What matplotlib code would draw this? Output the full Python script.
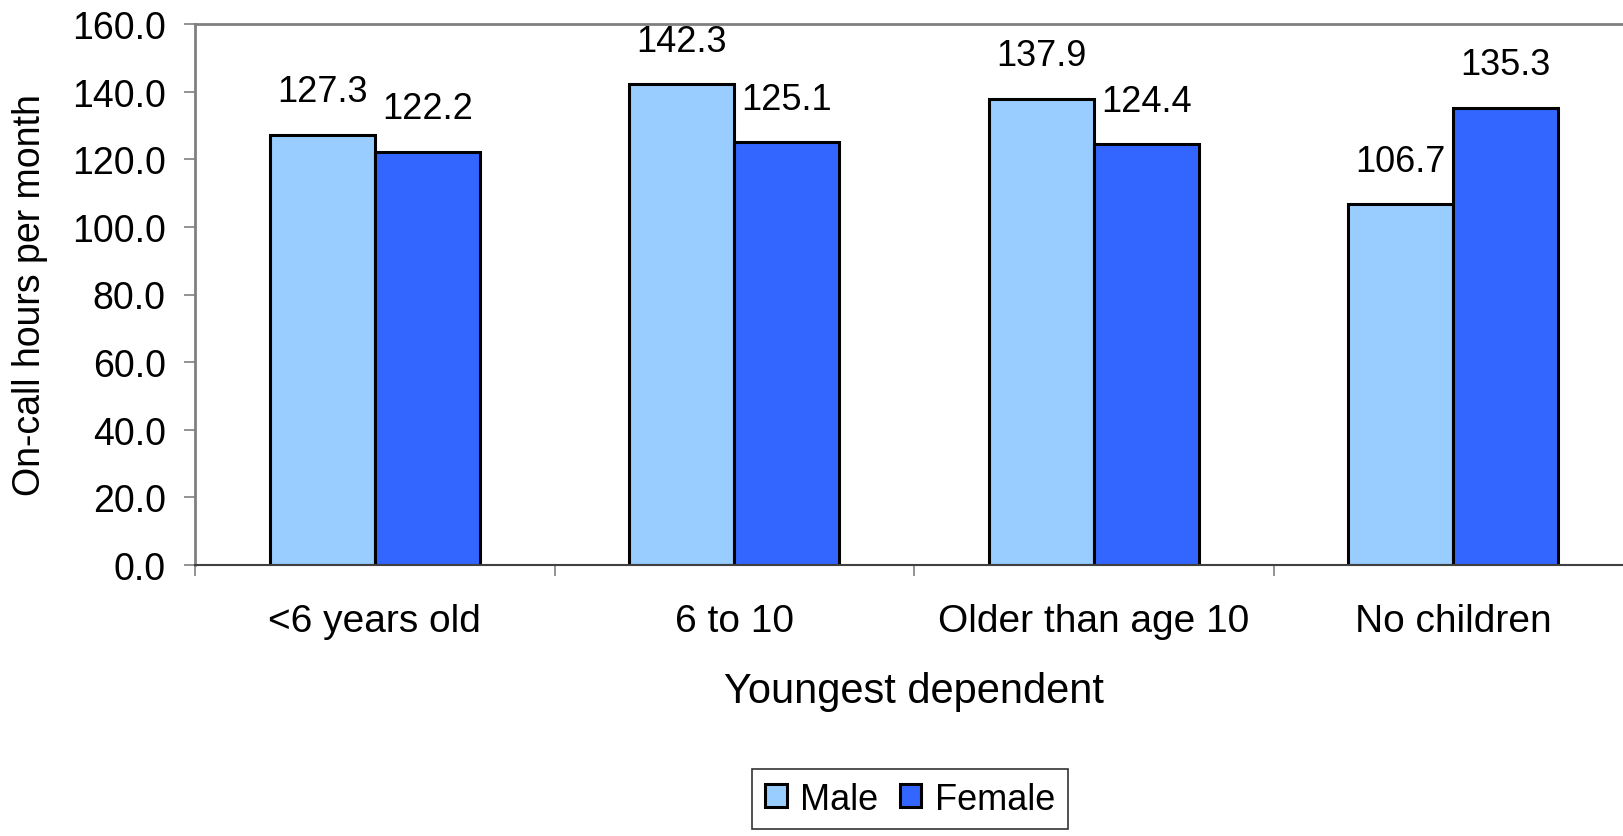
import numpy as np
import matplotlib.pyplot as plt
from matplotlib.ticker import FormatStrFormatter

plt.rcParams['font.family'] = ['Liberation Sans', 'DejaVu Sans']

# 数据
categories = ['<6 years old', '6 to 10', 'Older than age 10', 'No children']
male = [127.3, 142.3, 137.9, 106.7]
female = [122.2, 125.1, 124.4, 135.3]
series_names = ['Male', 'Female']

fig = plt.figure(figsize=(16.24, 8.37), dpi=100)
ax = fig.add_axes([195 / 1624, 271 / 837, 1438 / 1624, 541 / 837])

x = np.arange(len(categories))
w = 0.292
b1 = ax.bar(x - w / 2, male, width=w, color='#99CCFF', edgecolor='black', linewidth=2.2, label=series_names[0])
b2 = ax.bar(x + w / 2, female, width=w, color='#3366FF', edgecolor='black', linewidth=2.2, label=series_names[1])

# 数值标签
for bars, vals in ((b1, male), (b2, female)):
    for r, v in zip(bars, vals):
        ax.annotate('%.1f' % v, (r.get_x() + r.get_width() / 2, v), xytext=(0, 24),
                    textcoords='offset points', ha='center', va='baseline', fontsize=26)

ax.set_xlim(-0.5, len(categories) - 0.5)
ax.set_ylim(0, 160)
ax.set_yticks(np.arange(0, 161, 20))
ax.yaxis.set_major_formatter(FormatStrFormatter('%.1f'))
ax.tick_params(axis='y', labelsize=27, length=8, width=1.2, color='#808080', pad=13)

# 类别标签在中间，刻度线在分界处
ax.set_xticks(x)
ax.set_xticklabels(categories)
ax.set_xticks(np.arange(-0.5, len(categories) + 0.5, 1), minor=True)
ax.tick_params(axis='x', which='major', length=0, labelsize=28, pad=27)
ax.tick_params(axis='x', which='minor', length=8, width=1.2, color='#808080')

for s in ['left', 'top', 'right']:
    ax.spines[s].set_color('#808080')
    ax.spines[s].set_linewidth(2)
ax.spines['bottom'].set_color('#404040')
ax.spines['bottom'].set_linewidth(1.5)

ax.set_ylabel('On-call hours per month', fontsize=27)
ax.yaxis.set_label_coords(-0.102, 0.5)
fig.text(0.5 * (195 + 1633) / 1624, 1 - 692 / 837, 'Youngest dependent', fontsize=30,
         ha='center', va='center')

leg = fig.legend(loc='upper center', bbox_to_anchor=(910 / 1624, 1 - 770 / 837), ncol=2,
                 fontsize=26, frameon=True, fancybox=False, edgecolor='black',
                 handlelength=0.6, handleheight=0.6, handletextpad=0.37, columnspacing=0.6,
                 borderpad=0.35, borderaxespad=0)
leg.get_frame().set_linewidth(1.2)

plt.savefig('out.png', dpi=100)
